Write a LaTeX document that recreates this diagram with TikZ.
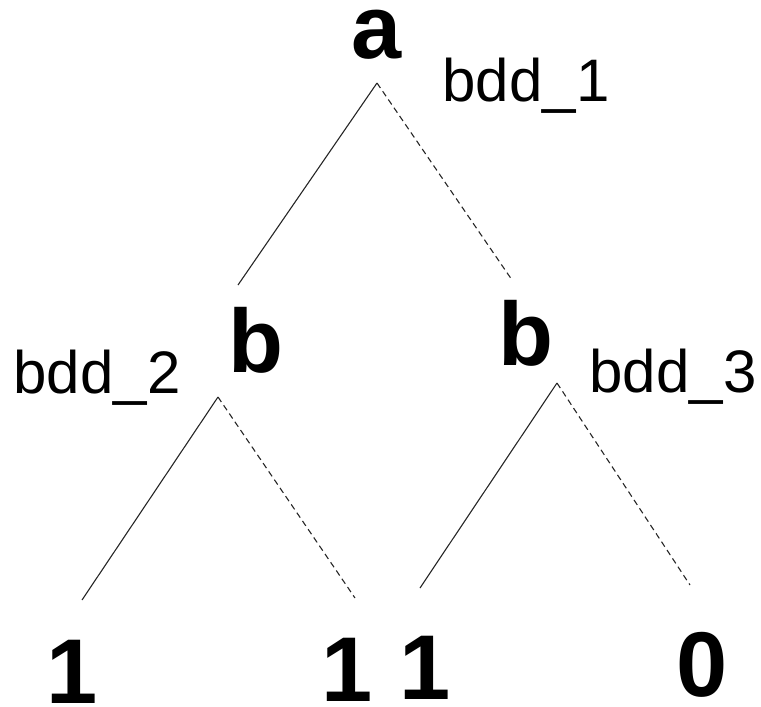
\documentclass[tikz,border=0pt]{standalone}
\usepackage{fontspec}
\setmainfont{Liberation Sans}
\begin{document}
\begin{tikzpicture}[x=1pt,y=-1pt,
  big/.style={font=\fontsize{90}{90}\selectfont\bfseries, inner sep=0pt, anchor=base, text height=0.73em, text depth=0pt},
  digit/.style={font=\fontsize{92}{92}\selectfont\bfseries, inner sep=0pt, anchor=base, text height=0.72em, text depth=0pt},
  lab/.style={font=\fontsize{60}{60}\selectfont, inner sep=0pt, anchor=base},
  hi/.style={line width=1.1pt, black!85},
  lo/.style={line width=1.1pt, black!85, dash pattern=on 6pt off 4pt}]
\useasboundingbox (0,0) rectangle (761,707);
% labels
\node[big, text height=0.53em] (a) at (377,58) {a};
\node[lab] (l1) at (526,101) {bdd\_1};
\node[big] (b1) at (256,372) {b};
\node[lab] (l2) at (97,393) {bdd\_2};
\node[big] (b2) at (526,365) {b};
\node[lab] (l3) at (673,392) {bdd\_3};
\node[digit] (t1) at (72.5,703) {1};
\node[digit] (t2) at (347.5,701) {1};
\node[digit] (t3) at (425.5,699) {1};
\node[digit] (t4) at (702.5,696) {0};
% connector ends
\coordinate (pa) at (377,83);
\coordinate (ea1) at (238,285);
\coordinate (ea2) at (512,280);
\coordinate (pb1) at (218,397);
\coordinate (eb1) at (82,600);
\coordinate (eb2) at (355,598);
\coordinate (pb2) at (557,383);
\coordinate (ec1) at (420,588);
\coordinate (ec2) at (690,585);
\draw[hi] (pa) -- (ea1);
\draw[lo] (pa) -- (ea2);
\draw[hi] (pb1) -- (eb1);
\draw[lo] (pb1) -- (eb2);
\draw[hi] (pb2) -- (ec1);
\draw[lo] (pb2) -- (ec2);
\end{tikzpicture}
\end{document}
